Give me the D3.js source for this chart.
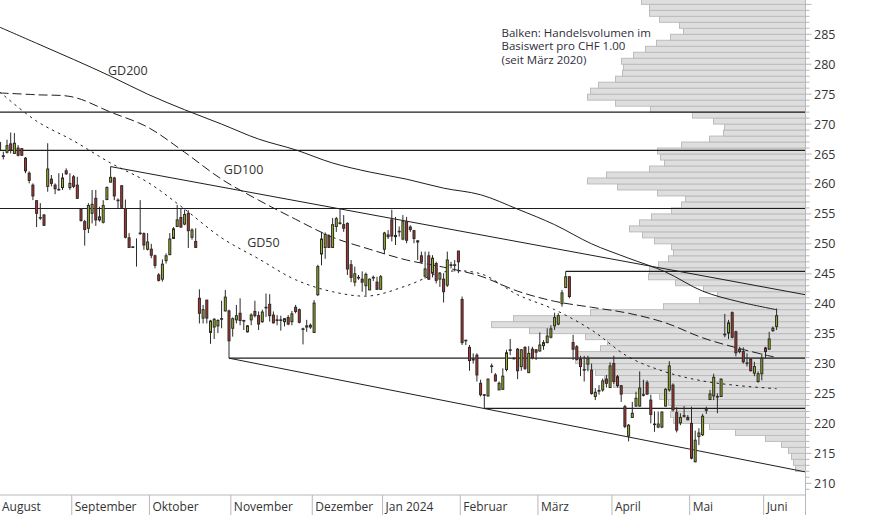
<!DOCTYPE html>
<html><head><meta charset="utf-8">
<script src="https://cdn.jsdelivr.net/npm/d3@7"></script>
<style>
body{margin:0;background:#fff;}
svg{display:block;}
text{font-family:"Open Sans",sans-serif;}
</style>
</head><body>
<svg id="c" width="874" height="515"></svg>
<script>
// ---------- DATA ----------
const openP = [265.7,264.7,265.3,266.7,265.1,266.0,265.9,264.3,261.8,259.8,257.2,254.4,254.8,259.6,260.8,259.8,259.0,259.4,262.2,259.4,
261.2,259.8,255.8,253.7,252.6,255.1,257.6,254.0,253.6,257.4,260.3,261.0,257.3,259.7,255.9,251.0,249.5,249.0,251.8,251.7,249.1,
249.1,248.0,244.8,244.1,247.2,248.2,250.9,252.9,254.4,253.3,255.1,251.1,250.4,240.9,237.6,240.6,235.2,236.1,236.3,237.5,238.8,238.8,
235.9,237.3,238.4,237.2,235.3,237.3,238.7,238.0,237.0,239.4,239.9,238.1,237.3,237.3,237.0,237.7,237.0,239.4,239.0,235.8,236.1,236.4,
235.2,241.5,248.3,249.4,251.3,249.4,252.9,253.4,253.2,253.4,246.5,243.6,244.4,244.1,243.0,242.3,244.4,243.6,242.4,
249.1,251.5,254.0,251.4,252.1,250.8,253.7,252.8,252.2,250.5,248.0,244.6,248.0,245.1,246.7,244.1,244.1,243.1,246.5,246.5,248.8,
240.7,233.9,232.7,230.7,231.4,226.7,224.8,224.6,229.6,228.1,225.6,225.7,229.0,232.3,230.9,232.4,229.5,232.7,228.5,232.4,232.3,
232.1,233.0,233.5,234.4,236.3,236.6,240.0,242.7,244.5,233.5,232.8,230.7,229.0,229.9,228.9,224.5,225.5,225.6,227.4,226.0,
230.0,227.8,226.3,222.8,217.9,221.0,222.9,222.9,224.8,226.8,223.9,219.9,219.4,219.4,222.9,225.6,226.4,221.8,220.1,221.3,221.0,
220.0,213.6,217.8,218.1,222.3,224.0,224.6,224.5,224.5,234.9,235.1,238.5,235.3,232.4,232.0,230.1,230.7,228.4,227.0,228.3,
232.6,232.4,235.5,236.2];
const highP = [267.2,265.4,267.4,268.6,268.5,266.5,266.0,264.5,262.1,260.1,257.3,256.8,255.0,266.8,261.5,260.1,261.8,261.8,262.6,261.8,
261.5,261.2,255.9,254.0,256.8,259.0,259.0,256.2,257.3,259.6,262.9,261.2,257.6,259.8,257.4,251.8,249.5,250.9,257.3,251.9,251.8,
250.0,248.2,245.1,247.4,248.4,251.8,252.8,256.5,255.9,255.7,255.6,252.6,252.6,242.4,239.8,240.6,237.3,237.6,237.4,240.5,242.3,239.0,
237.7,239.8,240.9,237.3,236.4,238.4,240.5,238.7,239.0,241.7,241.6,238.7,238.1,238.0,237.6,238.1,238.8,239.8,239.2,236.0,237.3,236.7,
240.6,246.5,252.0,251.9,251.6,254.3,254.5,255.8,254.8,253.6,247.3,246.2,244.8,245.4,245.2,244.2,244.7,244.5,244.8,
252.0,252.3,255.7,254.5,252.9,254.8,254.5,253.1,252.3,250.6,248.7,248.7,248.7,248.1,247.0,245.1,245.1,248.7,247.0,247.3,248.8,
241.2,233.9,233.1,231.7,231.7,227.3,224.8,227.5,230.0,228.4,227.0,229.2,232.3,234.1,231.0,232.6,232.4,232.9,232.9,232.8,232.4,
235.2,233.9,235.9,236.4,238.5,238.4,242.3,245.4,244.6,234.8,233.1,231.3,231.3,231.3,230.0,225.9,226.4,227.5,228.1,230.2,
231.3,228.1,226.4,223.1,219.9,223.6,225.3,228.7,227.3,227.2,224.8,222.0,222.0,222.0,225.9,230.4,226.7,222.7,221.7,222.9,221.4,
222.8,218.8,219.2,221.6,222.8,225.6,228.3,225.0,227.5,238.3,237.3,238.7,235.5,232.8,232.7,231.7,230.9,230.3,228.7,231.7,
232.8,235.3,236.2,239.2];
const lowP = [265.4,264.1,265.1,265.1,265.0,264.6,264.7,261.8,260.1,257.3,252.8,254.0,253.0,258.7,259.6,258.3,258.9,259.0,261.5,259.0,
259.3,257.5,253.7,249.7,251.8,253.4,253.0,253.7,253.4,257.3,260.3,257.3,255.9,255.9,250.9,249.3,249.3,246.2,251.5,249.0,248.9,
247.6,245.9,243.7,243.7,246.7,248.1,250.8,252.8,252.7,253.1,249.3,250.7,249.3,236.7,236.7,236.7,233.3,234.1,235.1,235.9,238.7,230.9,
234.5,236.7,236.4,235.6,235.2,236.4,237.7,235.6,236.8,237.8,237.0,236.7,236.4,235.5,236.2,236.4,236.4,238.4,236.7,233.2,235.3,235.8,
235.1,241.3,246.4,247.5,249.3,249.3,252.0,253.2,252.0,244.8,243.6,242.9,244.0,242.0,241.4,242.3,243.8,242.3,242.3,
248.3,250.8,250.4,249.8,251.2,250.6,250.1,252.0,250.1,247.3,246.7,244.2,244.0,244.4,243.4,242.8,240.2,242.8,245.9,245.4,245.1,
233.1,233.1,228.8,230.0,227.0,224.5,222.5,224.5,228.4,227.0,225.6,225.6,228.7,231.4,230.7,227.4,228.8,228.9,228.4,230.7,230.6,
232.0,232.3,233.4,234.2,235.6,236.4,239.5,242.6,240.9,230.6,230.5,227.9,227.0,228.7,224.8,223.9,224.8,225.3,226.0,225.9,
226.6,226.0,223.6,219.2,217.0,220.9,222.8,222.8,224.5,224.8,220.0,218.6,219.2,219.2,222.8,225.3,222.0,218.5,219.7,221.0,220.6,
214.0,213.5,216.4,217.9,221.6,223.9,223.9,221.7,224.4,234.4,234.1,234.2,231.2,231.7,230.0,229.5,228.7,227.9,226.8,227.2,
230.9,232.3,235.3,235.6];
const closeP = [266.9,264.6,266.4,265.7,266.8,264.8,264.8,262.2,260.6,258.0,255.1,254.3,253.1,262.5,260.1,259.2,259.1,261.0,261.7,260.1,
259.6,257.6,253.9,252.4,256.4,256.6,254.0,254.5,256.4,259.4,261.1,258.0,257.2,256.1,251.1,249.4,249.4,249.0,251.7,249.8,250.3,
248.1,246.4,243.9,246.6,248.0,250.8,252.5,254.0,252.8,254.9,252.2,252.3,249.4,238.4,239.0,237.6,237.1,237.4,237.2,237.4,241.1,233.8,
237.5,238.0,237.2,237.1,236.3,238.1,238.0,236.6,238.6,239.3,238.0,236.8,237.2,237.2,237.5,236.6,238.3,238.7,236.9,235.7,236.3,236.1,
240.1,246.2,250.8,251.6,249.4,253.2,254.2,253.5,252.6,245.8,244.4,245.0,244.3,243.6,244.9,244.1,244.3,242.4,244.5,
251.8,251.2,251.3,251.2,252.0,253.7,250.6,252.4,250.9,250.3,247.0,245.8,244.1,247.6,243.9,245.0,242.0,247.3,246.4,246.4,247.0,
233.5,233.8,230.5,230.6,228.1,224.8,224.7,227.4,229.5,227.1,226.7,227.9,231.8,232.2,230.8,228.8,232.3,229.2,231.7,231.0,231.9,
233.1,233.5,234.6,235.8,237.7,238.0,241.8,244.5,241.2,232.4,230.7,229.5,228.9,230.8,225.0,225.2,225.4,227.1,226.7,229.6,
227.0,226.3,224.9,219.5,219.7,221.7,224.2,225.9,224.7,224.9,221.5,219.8,219.9,221.9,225.7,229.6,222.3,218.9,221.0,221.2,220.6,
214.2,217.2,218.4,221.2,222.2,224.9,227.7,224.4,227.4,234.8,236.8,234.4,231.8,232.0,230.3,230.0,228.8,229.5,228.3,230.9,
232.0,234.1,235.9,238.0];

const monthLabels = ["August","September","Oktober","November","Dezember","Jan 2024","Februar","März","April","Mai","Juni"];
const monthStart  = [0,20,41,63,85,104,125,146,166,187,207];

const yTickLabels = ["210","215","220","225","230","235","240","245","250","255","260","265","270","275","280","285"];

// volume profile (one bar per CHF 1.00, starting at 212)
const profileFrom = 212;
const profileVol = [10,12,14,17,24,40,70,96,132,135,134,137,146,184,192,201,210,222,230,228,205,198,220,276,314,292,215,142,106,88,
102,130,157,156,147,137,132,134,151,163,176,166,154,134,124,120,148,188,218,199,156,141,145,148,124,96,82,81,92,113,
155,190,218,215,207,190,183,182,184,172,160,149,135,122,126,146,156,156,164];

// moving averages, sampled at candle indices
const maIndex = [0,10,20,30,40,50,60,70,80,90,100,110,120,130,140,150,160,170,180,190,200,210];
const gd200 = [286.2,283.5,280.8,278.0,275.0,272.4,270.0,267.5,265.7,263.5,262.0,260.8,259.3,258.2,255.8,253.2,250.0,247.6,245.3,242.1,240.3,239.0];
const gd100 = [275.2,274.9,274.5,272.0,269.5,265.3,260.8,257.3,254.1,251.1,249.1,247.3,246.1,244.6,242.1,240.4,239.4,238.4,236.8,234.3,232.5,231.0];
const gd50  = [275.4,270.5,267.2,263.5,260.3,255.8,251.0,247.5,244.0,242.0,241.3,243.0,245.3,245.0,241.5,239.0,235.6,231.1,228.6,227.1,226.3,225.8];

// support / resistance levels: [start index, value]
const hLines = [[0,272.0],[0,265.6],[0,255.9],[153,245.4],[62,230.9],[131,222.5]];
// trend lines: [[i0,v0],[i1,v1]]
const trendLines = [[[30,262.9],[217.8,241.5]], [[62,230.9],[217.8,211.9]]];

const maLabels = [["GD200",29.3,278.2],["GD100",60.6,261.7],["GD50",66.9,249.5]];
const noteLines = ["Balken: Handelsvolumen im","Basiswert pro CHF 1.00","(seit März 2020)"];

// ---------- DRAW ----------
const svg = d3.select("#c");
const W = 874, H = 515;
const plotRight = 805.5, axisY = 495;

const x = d3.scaleLinear().domain([0,210]).range([-0.4,776.6]);
const y = d3.scaleLinear().domain([210,285]).range([483.3,34.3]);
const vol = d3.scaleLinear().domain([0,100]).range([0,100]);

svg.append("defs").append("clipPath").attr("id","plot")
  .append("rect").attr("x",0).attr("y",0).attr("width",plotRight).attr("height",axisY);
const g = svg.append("g").attr("clip-path","url(#plot)");

// volume profile
g.selectAll("rect.vp").data(profileVol).join("rect")
  .attr("x",d=>plotRight - vol(d))
  .attr("y",(d,i)=>y(profileFrom+i+1))
  .attr("width",d=>vol(d))
  .attr("height",(d,i)=>y(profileFrom+i)-y(profileFrom+i+1))
  .attr("fill","#dedede").attr("stroke","#bcbcbc").attr("stroke-width",1);

// horizontal levels
g.selectAll("line.h").data(hLines).join("line")
  .attr("x1",d=>Math.max(0,x(d[0]))).attr("x2",plotRight)
  .attr("y1",d=>y(d[1])).attr("y2",d=>y(d[1]))
  .attr("stroke","#1e1e1e").attr("stroke-width",1.2);

// trend lines
g.selectAll("line.t").data(trendLines).join("line")
  .attr("x1",d=>x(d[0][0])).attr("y1",d=>y(d[0][1]))
  .attr("x2",d=>x(d[1][0])).attr("y2",d=>y(d[1][1]))
  .attr("stroke","#1e1e1e").attr("stroke-width",1);

// moving averages
const maLine = d3.line().x(d=>x(d[0])).y(d=>y(d[1])).curve(d3.curveCatmullRom);
[[gd200,null],[gd100,"9,4"],[gd50,"2.5,4"]].forEach(([arr,dash])=>{
  g.append("path").attr("d",maLine(maIndex.map((k,i)=>[k,arr[i]])))
   .attr("fill","none").attr("stroke","#1e1e1e").attr("stroke-width",1)
   .attr("stroke-dasharray",dash);
});

// candles
const idx = d3.range(openP.length);
g.selectAll("line.w").data(idx).join("line")
  .attr("x1",i=>x(i)).attr("x2",i=>x(i))
  .attr("y1",i=>y(highP[i])).attr("y2",i=>y(lowP[i]))
  .attr("stroke","#2a2a2a").attr("stroke-width",1);
g.selectAll("rect.b").data(idx).join("rect")
  .attr("x",i=>x(i)-1).attr("width",2)
  .attr("y",i=>y(Math.max(openP[i],closeP[i])))
  .attr("height",i=>Math.abs(y(openP[i])-y(closeP[i])))
  .attr("fill",i=>closeP[i]>=openP[i]?"#9bb51c":"#b8342a")
  .attr("stroke","#2a2a2a").attr("stroke-width",1);

// MA labels
svg.selectAll("text.ma").data(maLabels).join("text")
  .attr("x",d=>x(d[1])).attr("y",d=>y(d[2]))
  .attr("font-size",12.5).attr("fill","#333").text(d=>d[0]);

// note
svg.selectAll("text.note").data(noteLines).join("text")
  .attr("x",501.5).attr("y",(d,i)=>36.7+i*13.7)
  .attr("font-size",11.5).attr("fill","#2d2d3a").text(d=>d);

// y axis
svg.append("line").attr("x1",plotRight).attr("x2",plotRight).attr("y1",0).attr("y2",H)
  .attr("stroke","#b8b8b8");
const minor = d3.range(209,292).filter(v=>y(v)>=0 && y(v)<=axisY);
svg.selectAll("line.mt").data(minor).join("line")
  .attr("x1",plotRight).attr("x2",d=>plotRight+(d%5===0?6:4))
  .attr("y1",d=>y(d)).attr("y2",d=>y(d)).attr("stroke","#b8b8b8");
svg.selectAll("text.yt").data(yTickLabels).join("text")
  .attr("x",814).attr("y",d=>y(+d)).attr("dy","0.36em")
  .attr("font-size",12.5).attr("fill","#333").text(d=>d);

// x axis
svg.append("line").attr("x1",0).attr("x2",plotRight).attr("y1",axisY).attr("y2",axisY)
  .attr("stroke","#b8b8b8");
const sepX = monthStart.map(k=>x(k-0.5));
svg.selectAll("line.ms").data(sepX.slice(1)).join("line")
  .attr("x1",d=>d).attr("x2",d=>d).attr("y1",axisY).attr("y2",H)
  .attr("stroke","#b8b8b8");
svg.selectAll("text.ml").data(monthLabels).join("text")
  .attr("x",(d,i)=>Math.max(2,sepX[i]+3)).attr("y",511)
  .attr("font-size",12).attr("fill","#333").text(d=>d);
</script>
</body></html>
